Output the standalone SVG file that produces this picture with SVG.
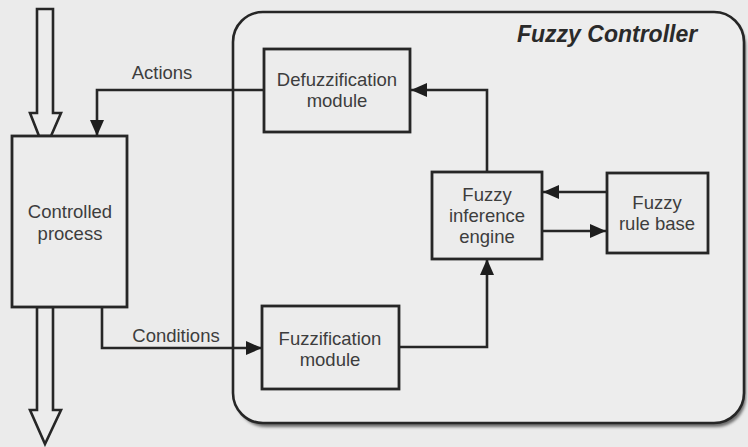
<svg xmlns="http://www.w3.org/2000/svg" width="748" height="447" viewBox="0 0 748 447">
  <defs>
    <style>
      .box { fill: #ececec; stroke: #262626; stroke-width: 2.8; }
      .lbl { font-family: "Liberation Sans", Arial, sans-serif; font-size: 18.5px; fill: #3d3d3d; text-anchor: middle; }
      .title { font-family: "Liberation Sans", Arial, sans-serif; font-size: 23px; font-weight: bold; font-style: italic; fill: #2a2a2a; }
      .wire { fill: none; stroke: #262626; stroke-width: 2.6; }
      .hollow { fill: #ececec; stroke: #262626; stroke-width: 2.6; stroke-linejoin: miter; }
    </style>
    <marker id="arrow" viewBox="0 0 16 14" refX="16" refY="7" markerWidth="16" markerHeight="14" markerUnits="userSpaceOnUse" orient="auto">
      <path d="M0,0 L16,7 L0,14 Z" fill="#1e1e1e"/>
    </marker>
    <filter id="soft" x="-5%" y="-5%" width="110%" height="110%">
      <feGaussianBlur stdDeviation="1.5"/>
    </filter>
  </defs>

  <!-- page background -->
  <rect x="0" y="0" width="748" height="447" fill="#ebebeb"/>

  <!-- controller frame with drop shadow -->
  <g id="fuzzy-controller">
    <rect x="236" y="16" width="510" height="411" rx="30" ry="30" fill="#6a6a6a" filter="url(#soft)"/>
    <rect x="233" y="12" width="511" height="411" rx="30" ry="30" fill="#ededed" stroke="#262626" stroke-width="2.6"/>
    <text class="title" x="517" y="42">Fuzzy Controller</text>
  </g>

  <!-- process input / output flows -->
  <g id="process-input">
    <path class="hollow" d="M37,9 L53,9 L53,113 L61,113 L51,136 L39,136 L30,113 L37,113 Z"/>
  </g>
  <g id="process-output">
    <path class="hollow" d="M37,307 L53,307 L53,410 L61,410 L45,444 L30,410 L37,410 Z"/>
  </g>

  <!-- connectors -->
  <g id="connectors">
    <path class="wire" d="M264,90 L97,90 L97,136" marker-end="url(#arrow)"/>
    <path class="wire" d="M102,307 L102,348 L262,348" marker-end="url(#arrow)"/>
    <path class="wire" d="M399,347 L487,347 L487,259" marker-end="url(#arrow)"/>
    <path class="wire" d="M487,172 L487,90 L411,90" marker-end="url(#arrow)"/>
    <path class="wire" d="M607,192 L543,192" marker-end="url(#arrow)"/>
    <path class="wire" d="M542,231 L606,231" marker-end="url(#arrow)"/>
    <text class="lbl" x="162" y="79">Actions</text>
    <text class="lbl" x="176" y="342">Conditions</text>
  </g>

  <g id="controlled-process">
    <rect class="box" x="12" y="136" width="115" height="171"/>
    <text class="lbl" x="70" y="218">Controlled</text>
    <text class="lbl" x="70" y="240">process</text>
  </g>

  <g id="defuzzification-module">
    <rect class="box" x="264" y="49" width="146" height="83"/>
    <text class="lbl" x="337" y="86">Defuzzification</text>
    <text class="lbl" x="337" y="107">module</text>
  </g>

  <g id="fuzzification-module">
    <rect class="box" x="262" y="306" width="137" height="83"/>
    <text class="lbl" x="330" y="345">Fuzzification</text>
    <text class="lbl" x="330" y="366">module</text>
  </g>

  <g id="fuzzy-inference-engine">
    <rect class="box" x="432" y="172" width="110" height="87"/>
    <text class="lbl" x="487" y="201">Fuzzy</text>
    <text class="lbl" x="487" y="222">inference</text>
    <text class="lbl" x="487" y="243">engine</text>
  </g>

  <g id="fuzzy-rule-base">
    <rect class="box" x="607" y="173" width="101" height="80"/>
    <text class="lbl" x="657" y="209">Fuzzy</text>
    <text class="lbl" x="657" y="230">rule base</text>
  </g>
</svg>
